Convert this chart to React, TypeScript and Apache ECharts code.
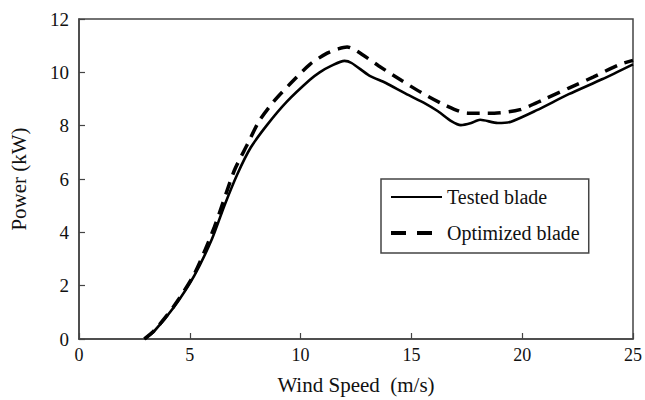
import React, { useEffect, useRef } from "react";
import * as echarts from "echarts";

const testedX = [2.95, 3.4, 4.27, 5.21, 6.0, 6.56, 7.15, 7.75, 8.49, 9.38, 10.42, 10.86, 11.4, 11.98, 12.3, 13.1, 13.85, 14.74, 15.63, 16.2, 16.8, 17.23, 17.7, 18.1, 18.9, 19.5, 20.66, 22.1, 23.6, 25];
const testedY = [0, 0.3, 1.18, 2.39, 3.75, 5.0, 6.19, 7.18, 8.03, 8.9, 9.72, 10.0, 10.25, 10.43, 10.35, 9.88, 9.6, 9.2, 8.83, 8.54, 8.17, 8.02, 8.1, 8.22, 8.1, 8.15, 8.58, 9.18, 9.74, 10.3];

const optimizedX = [2.95, 3.4, 4.27, 5.21, 6.11, 7.0, 7.6, 8.12, 8.78, 9.53, 10.42, 11.2, 11.7, 12.1, 12.5, 13.53, 14.56, 15.45, 16.52, 17.54, 18.74, 19.9, 20.97, 22.13, 23.2, 24.35, 25];
const optimizedY = [0, 0.32, 1.22, 2.45, 4.2, 6.3, 7.3, 8.16, 8.9, 9.57, 10.3, 10.72, 10.88, 10.95, 10.82, 10.24, 9.69, 9.24, 8.77, 8.47, 8.47, 8.6, 8.98, 9.42, 9.82, 10.28, 10.45];

const seriesNames = ["Tested blade", "Optimized blade"];
const xTicks = [0, 5, 10, 15, 20, 25];
const yTicks = [0, 2, 4, 6, 8, 10, 12];

const FONT = "'Liberation Serif', 'Times New Roman', serif";

export default function App() {
  const ref = useRef<HTMLDivElement>(null);
  useEffect(() => {
    if (!ref.current) return;
    const chart = echarts.init(ref.current, undefined, { renderer: "svg" });
    const axisColor = "#444";
    chart.setOption({
      animation: false,
      backgroundColor: "#fff",
      textStyle: { fontFamily: FONT },
      grid: {
        left: 76,
        right: 7.5,
        top: 19,
        bottom: 55,
        show: true,
        borderColor: axisColor,
        borderWidth: 1.5,
        backgroundColor: "transparent",
      },
      legend: {
        orient: "vertical",
        left: 381,
        top: 179,
        data: [
          { name: seriesNames[0] },
          { name: seriesNames[1], lineStyle: { type: [15, 11], width: 4 } },
        ],
        itemWidth: 51,
        itemHeight: 14,
        itemGap: 16,
        padding: [8, 9, 10, 8],
        borderColor: "#444",
        borderWidth: 1.5,
        backgroundColor: "#fff",
        itemStyle: { opacity: 0 },
        textStyle: { fontFamily: FONT, fontSize: 20, color: "#111", lineHeight: 20 },
      },
      xAxis: {
        type: "value",
        min: xTicks[0],
        max: xTicks[xTicks.length - 1],
        interval: 5,
        name: "Wind Speed  (m/s)",
        nameLocation: "middle",
        nameGap: 35,
        nameTextStyle: { fontFamily: FONT, fontSize: 21, color: "#111" },
        axisLine: { onZero: false, lineStyle: { color: axisColor, width: 1.5 } },
        axisTick: { inside: true, length: 6, lineStyle: { color: axisColor, width: 1.2 } },
        axisLabel: { fontFamily: FONT, fontSize: 18, color: "#111", margin: 7 },
        splitLine: { show: false },
      },
      yAxis: {
        type: "value",
        min: yTicks[0],
        max: yTicks[yTicks.length - 1],
        interval: 2,
        name: "Power (kW)",
        nameLocation: "middle",
        nameGap: 50,
        nameRotate: 90,
        nameTextStyle: { fontFamily: FONT, fontSize: 21, color: "#111" },
        axisLine: { show: true, onZero: false, lineStyle: { color: axisColor, width: 1.5 } },
        axisTick: { show: true, inside: true, length: 6, lineStyle: { color: axisColor, width: 1.2 } },
        axisLabel: { fontFamily: FONT, fontSize: 19, color: "#111", margin: 10 },
        splitLine: { show: false },
      },
      series: [
        {
          name: seriesNames[0],
          type: "line",
          data: testedX.map((x, i) => [x, testedY[i]]),
          showSymbol: false,
          symbol: "none",
          smooth: 0.25,
          lineStyle: { color: "#000", width: 2.6, type: "solid" },
          itemStyle: { color: "#000" },
        },
        {
          name: seriesNames[1],
          type: "line",
          data: optimizedX.map((x, i) => [x, optimizedY[i]]),
          showSymbol: false,
          symbol: "none",
          smooth: 0.25,
          lineStyle: { color: "#000", width: 3.5, type: [13, 8] },
          itemStyle: { color: "#000" },
        },
      ],
    });
    return () => chart.dispose();
  }, []);
  return <div ref={ref} style={{ width: 645, height: 400, position: "absolute", left: 0, top: 0 }} />;
}
